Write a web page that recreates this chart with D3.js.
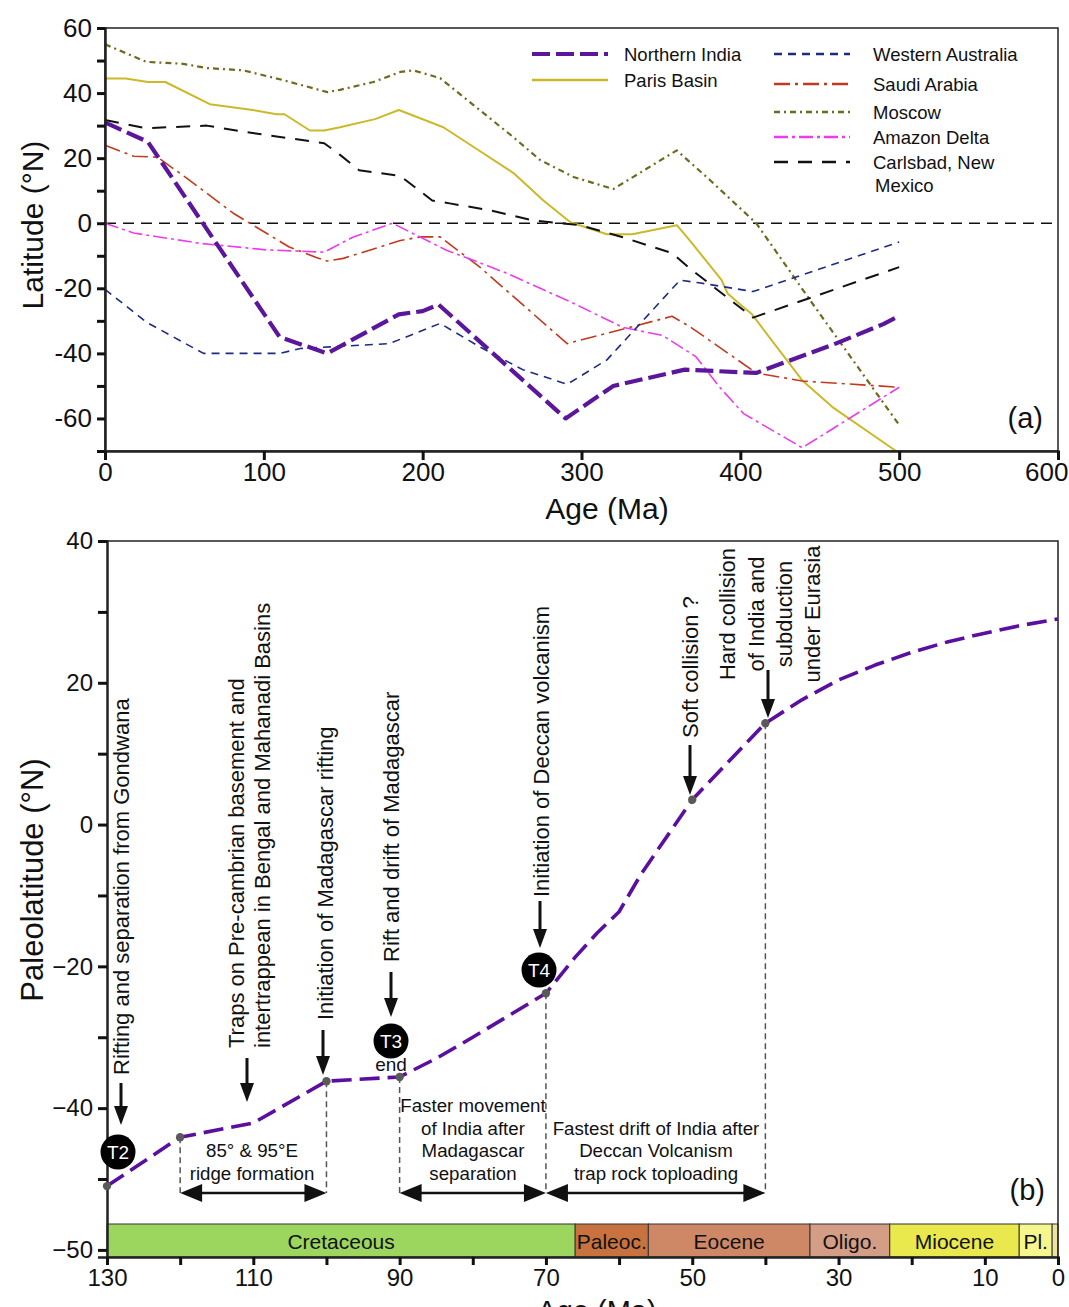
<!DOCTYPE html>
<html>
<head>
<meta charset="utf-8">
<script src="https://cdn.jsdelivr.net/npm/d3@7"></script>
<style>
  body { margin: 0; background: #fff; }
  svg { display: block; font-family: "Liberation Sans", Arial, sans-serif; }
</style>
</head>
<body>
<div id="my_dataviz"></div>
<script>
// ---------- data (a) : paleolatitude vs age for each region ----------
var ageIndia   = [0, 27, 110, 140, 185, 200, 210, 290, 320, 365, 410, 460, 490, 500]
var latIndia   = [31, 25, -35, -40, -28, -27, -25, -60, -50, -45, -46, -37, -31, -28.5]

var ageParis   = [0, 13, 27, 38, 66, 93, 108, 113, 129, 138, 148, 170, 185, 213, 235, 257, 276, 293, 316, 332, 360, 368, 388, 392, 400, 407, 439, 458, 498]
var latParis   = [44.5, 44.5, 43.4, 43.4, 36.6, 34.8, 33.5, 33.5, 28.5, 28.5, 29.5, 32, 34.8, 29.5, 22.5, 15.5, 7, 0.3, -3.4, -3.4, -0.6, -5.2, -17.3, -21.6, -25, -27.8, -48.3, -56.5, -70]

var ageWAus    = [0, 26, 62, 110, 123, 179, 211, 236, 263, 291, 316, 362, 374, 408, 500]
var latWAus    = [-20.3, -30.4, -40, -40, -38.5, -37, -30.8, -38, -45, -49.5, -42, -17.5, -18.3, -21, -5.8]

var ageSaudi   = [0, 18, 33, 51, 81, 116, 133, 140, 150, 186, 199, 211, 236, 291, 357, 368, 410, 439, 500]
var latSaudi   = [24, 20.6, 20.3, 14, 3, -7.3, -10.5, -11.6, -10.8, -5.3, -4.2, -4.2, -13.5, -37, -28.6, -31.7, -46, -48.5, -50.4]

var ageMoscow  = [0, 26, 49, 64, 87, 112, 140, 148, 169, 186, 194, 211, 232, 257, 274, 295, 320, 360, 381, 410, 444, 500]
var latMoscow  = [55, 49.6, 49, 47.7, 47, 44, 40.3, 41, 43.4, 46.5, 47, 44.6, 36.3, 26.5, 19.4, 14.2, 10.5, 22.4, 13.2, 0, -23.7, -62]

var ageAmazon  = [0, 18, 60, 102, 138, 156, 181, 215, 232, 253, 295, 326, 351, 372, 387, 402, 439, 500]
var latAmazon  = [0, -3, -6.2, -8.2, -8.9, -4.3, 0, -8.3, -11.4, -15.4, -24.6, -32, -34.5, -41, -50.4, -58.5, -69, -50.4]

var ageCarls   = [0, 26, 64, 93, 138, 148, 160, 186, 206, 217, 242, 269, 299, 326, 357, 368, 408, 500]
var latCarls   = [31.7, 29.2, 30, 27.7, 24.6, 21, 16.3, 14.5, 7, 6.1, 4, 0.9, -0.6, -4.3, -9.2, -13.8, -29, -13.5]

var seriesNames = ["Northern India", "Paris Basin", "Western Australia", "Saudi Arabia", "Moscow", "Amazon Delta", "Carlsbad, New Mexico"]

var xTicksA = [0, 100, 200, 300, 400, 500, 600]

// ---------- data (b) : Northern India paleolatitude, last 130 Ma ----------
var ageB = [130, 120, 110, 100, 90, 85, 80, 70, 66, 63, 60, 57, 53, 50, 40, 35, 30, 25, 20, 15, 10, 5, 0]
var latB = [-51, -44.1, -42.1, -36.2, -35.6, -33, -30, -23.8, -18.7, -15.3, -12.3, -7, -1, 3.5, 14.3, 17.6, 20.4, 22.5, 24.3, 25.8, 27, 28.1, 29]
var markedAges = [130, 120, 100, 90, 70, 50, 40]

var epochNames = ["Cretaceous", "Paleoc.", "Eocene", "Oligo.", "Miocene", "Pl.", ""]
var epochStart = [130, 66, 56, 33.9, 23, 5.3, 0.8]
var epochEnd   = [66, 56, 33.9, 23, 5.3, 0.8, 0]
var epochColor = ["#9cd65f", "#c8733f", "#ce8866", "#d49d86", "#e9e84d", "#f6f68e", "#eee29f"]

var xTickLabelsB = [130, 110, 90, 70, 50, 30, 10, 0]
// the original figure labels its lowest tick "−50"
var yTickLabelsB = {"40": "40", "20": "20", "0": "0", "-20": "\u221220", "-40": "\u221240", "-60": "\u221250"}

// ---------- svg ----------
var W = 1069, H = 1307
var svg = d3.select("#my_dataviz").append("svg")
    .attr("width", W).attr("height", H)

var styles = {
  "Northern India":       {color: "#5b169b", width: 4.2, dash: "18,6"},
  "Paris Basin":          {color: "#cbb929", width: 2,   dash: null},
  "Western Australia":    {color: "#1f2b82", width: 1.6, dash: "8,6"},
  "Saudi Arabia":         {color: "#c23a1e", width: 1.6, dash: "16,5,3,5"},
  "Moscow":               {color: "#6e6a1e", width: 2.2, dash: "6,4,2,4"},
  "Amazon Delta":         {color: "#eb3deb", width: 1.6, dash: "14,4,3,4"},
  "Carlsbad, New Mexico": {color: "#111111", width: 2,   dash: "14,10"}
}
var seriesData = [
  [ageIndia, latIndia], [ageParis, latParis], [ageWAus, latWAus], [ageSaudi, latSaudi],
  [ageMoscow, latMoscow], [ageAmazon, latAmazon], [ageCarls, latCarls]
]

// ===================== panel (a) =====================
var xA = d3.scaleLinear().domain([0, 600]).range([105, 1058])
var yA = d3.scaleLinear().domain([-70, 60]).range([451, 28])

var gA = svg.append("g")

// zero line
gA.append("line")
    .attr("x1", xA(0)).attr("x2", xA(600))
    .attr("y1", yA(0)).attr("y2", yA(0))
    .attr("stroke", "#111").attr("stroke-width", 1.3)
    .attr("stroke-dasharray", "11,7")

var lineA = d3.line().x(function(d) { return xA(d[0]) }).y(function(d) { return yA(d[1]) })

// draw in back-to-front order, India on top
var drawOrder = [1, 4, 6, 3, 5, 2, 0]
drawOrder.forEach(function(i) {
  var s = styles[seriesNames[i]]
  var pts = d3.zip(seriesData[i][0], seriesData[i][1])
  gA.append("path")
      .datum(pts)
      .attr("d", lineA)
      .attr("fill", "none")
      .attr("stroke", s.color)
      .attr("stroke-width", s.width)
      .attr("stroke-dasharray", s.dash)
      .attr("stroke-linejoin", "round")
})

// frame
gA.append("rect")
    .attr("x", xA(0)).attr("y", yA(60))
    .attr("width", xA(600) - xA(0)).attr("height", yA(-70) - yA(60))
    .attr("fill", "none").attr("stroke", "#222").attr("stroke-width", 1.5)

var yAxisA = gA.append("g")
    .attr("transform", "translate(" + xA(0) + ",0)")
    .call(d3.axisLeft(yA).tickValues(d3.range(-70, 61, 10)).tickSize(8).tickPadding(5)
      .tickFormat(function(d) { return d % 20 === 0 ? String(d) : "" }))
var xAxisA = gA.append("g")
    .attr("transform", "translate(0," + yA(-70) + ")")
    .call(d3.axisBottom(xA).tickValues(xTicksA).tickSize(9).tickPadding(3)
      .tickFormat(function(d) { return String(d) }))
;[yAxisA, xAxisA].forEach(function(ax) {
  ax.select(".domain").attr("stroke", "#222").attr("stroke-width", 2.5)
  ax.selectAll(".tick line").attr("stroke", "#111").attr("stroke-width", 3)
  ax.selectAll(".tick text").attr("font-size", 26).attr("fill", "#111")
      .attr("font-family", "Liberation Sans, Arial, sans-serif")
})
// last label sits against the page edge
xAxisA.selectAll(".tick text").filter(function(d) { return d === 600 })
    .attr("text-anchor", "end").attr("dx", 10)

gA.append("text")
    .attr("text-anchor", "middle")
    .attr("transform", "translate(43,225) rotate(-90)")
    .attr("font-size", 30).attr("fill", "#111")
    .text("Latitude (°N)")
gA.append("text")
    .attr("text-anchor", "middle")
    .attr("x", 607).attr("y", 519)
    .attr("font-size", 30).attr("fill", "#111")
    .text("Age (Ma)")
gA.append("text")
    .attr("x", 1043).attr("y", 428).attr("text-anchor", "end")
    .attr("font-size", 29).attr("fill", "#111")
    .text("(a)")

// legend
var legendSpec = [
  {name: "Northern India", x: 532, tx: 624, y: 55, lines: ["Northern India"]},
  {name: "Paris Basin", x: 532, tx: 624, y: 81, lines: ["Paris Basin"]},
  {name: "Western Australia", x: 774, tx: 873, y: 55, lines: ["Western Australia"]},
  {name: "Saudi Arabia", x: 774, tx: 873, y: 85, lines: ["Saudi Arabia"]},
  {name: "Moscow", x: 774, tx: 873, y: 113, lines: ["Moscow"]},
  {name: "Amazon Delta", x: 774, tx: 873, y: 138, lines: ["Amazon Delta"]},
  {name: "Carlsbad, New Mexico", x: 774, tx: 873, y: 163, lines: ["Carlsbad, New", "Mexico"]}
]
var leg = gA.append("g")
legendSpec.forEach(function(l) {
  var s = styles[l.name]
  leg.append("line")
      .attr("x1", l.x).attr("x2", l.x + 76)
      .attr("y1", l.y - 1).attr("y2", l.y - 1)
      .attr("stroke", s.color).attr("stroke-width", Math.max(s.width, 2.4))
      .attr("stroke-dasharray", s.dash)
  l.lines.forEach(function(t, j) {
    leg.append("text")
        .attr("x", l.tx + (j > 0 ? 2 : 0)).attr("y", l.y + 6 + j * 23)
        .attr("font-size", 18.5).attr("fill", "#111")
        .text(t)
  })
})

// ===================== panel (b) =====================
var xB = d3.scaleLinear().domain([130, 0]).range([107, 1058])
var yB = d3.scaleLinear().domain([40, -61]).range([541, 1257])
var barTop = 1224

var gB = svg.append("g")

// time scale bar
var epochs = d3.range(epochNames.length).map(function(i) {
  return {name: epochNames[i], a0: epochStart[i], a1: epochEnd[i], color: epochColor[i]}
})
gB.selectAll("rect.epoch")
  .data(epochs)
  .enter()
  .append("rect")
    .attr("class", "epoch")
    .attr("x", function(d) { return xB(d.a0) })
    .attr("width", function(d) { return xB(d.a1) - xB(d.a0) })
    .attr("y", barTop).attr("height", yB(-61) - barTop)
    .attr("fill", function(d) { return d.color })
    .attr("stroke", "#333").attr("stroke-width", 1)
gB.selectAll("text.epoch")
  .data(epochs)
  .enter()
  .append("text")
    .attr("class", "epoch")
    .attr("x", function(d) { return (xB(d.a0) + xB(d.a1)) / 2 })
    .attr("y", barTop + 25)
    .attr("text-anchor", "middle")
    .attr("font-size", 21).attr("fill", "#111")
    .text(function(d) { return d.name })

// frame top + right
gB.append("path")
    .attr("d", "M" + xB(130) + "," + yB(40) + "H" + xB(0) + "V" + yB(-61))
    .attr("fill", "none").attr("stroke", "#222").attr("stroke-width", 1.5)

var yAxisB = gB.append("g")
    .attr("transform", "translate(" + xB(130) + ",0)")
    .call(d3.axisLeft(yB).tickValues(d3.range(-60, 41, 10)).tickSize(9).tickPadding(5)
      .tickFormat(function(d) { return yTickLabelsB[String(d)] || "" }))
var xAxisB = gB.append("g")
    .attr("transform", "translate(0," + yB(-61) + ")")
    .call(d3.axisBottom(xB).tickValues(d3.range(0, 131, 10)).tickSize(8).tickPadding(4)
      .tickFormat(function(d) { return xTickLabelsB.indexOf(d) >= 0 ? String(d) : "" }))
;[yAxisB, xAxisB].forEach(function(ax) {
  ax.select(".domain").attr("stroke", "#222").attr("stroke-width", 2.5)
  ax.selectAll(".tick line").attr("stroke", "#111").attr("stroke-width", 3)
  ax.selectAll(".tick text").attr("font-size", 24).attr("fill", "#111")
      .attr("font-family", "Liberation Sans, Arial, sans-serif")
})

gB.append("text")
    .attr("text-anchor", "middle")
    .attr("transform", "translate(43,880) rotate(-90)")
    .attr("font-size", 31).attr("fill", "#111")
    .text("Paleolatitude (°N)")
gB.append("text")
    .attr("text-anchor", "middle")
    .attr("x", 597).attr("y", 1321)
    .attr("font-size", 29).attr("fill", "#111")
    .text("Age (Ma)")
gB.append("text")
    .attr("x", 1045).attr("y", 1200).attr("text-anchor", "end")
    .attr("font-size", 29).attr("fill", "#111")
    .text("(b)")

var ptsB = d3.zip(ageB, latB)
var lookup = {}
ptsB.forEach(function(p) { lookup[p[0]] = p[1] })

// dashed guides and double arrows
var arrowY = 1193
var guideAges = [120, 100, 90, 70, 40]
guideAges.forEach(function(a) {
  gB.append("line")
      .attr("x1", xB(a)).attr("x2", xB(a))
      .attr("y1", yB(lookup[a])).attr("y2", arrowY)
      .attr("stroke", "#555").attr("stroke-width", 1.5)
      .attr("stroke-dasharray", "6,4")
})

function head(g, x, y, dir, len, half, vertical) {
  var p
  if (vertical) p = [[x, y], [x - half, y - len], [x + half, y - len]]
  else p = [[x, y], [x - dir * len, y - half], [x - dir * len, y + half]]
  g.append("path").attr("d", "M" + p.join("L") + "Z").attr("fill", "#111")
}
var spans = [[120, 100], [90, 70], [70, 40]]
spans.forEach(function(s) {
  var x1 = xB(s[0]), x2 = xB(s[1])
  gB.append("line")
      .attr("x1", x1 + 8).attr("x2", x2 - 8)
      .attr("y1", arrowY).attr("y2", arrowY)
      .attr("stroke", "#111").attr("stroke-width", 2.5)
  head(gB, x1, arrowY, -1, 22, 9, false)
  head(gB, x2, arrowY, 1, 22, 9, false)
})

// span descriptions
var spanText = [
  {x: 252, y: [1157, 1180], lines: ["85° & 95°E", "ridge formation"]},
  {x: 473, y: [1112, 1135, 1157, 1180], lines: ["Faster movement", "of India after", "Madagascar", "separation"]},
  {x: 656, y: [1135, 1157, 1180], lines: ["Fastest drift of India after", "Deccan Volcanism", "trap rock toploading"]}
]
spanText.forEach(function(t) {
  t.lines.forEach(function(s, j) {
    gB.append("text")
        .attr("x", t.x).attr("y", t.y[j])
        .attr("text-anchor", "middle")
        .attr("font-size", 18.7).attr("fill", "#111")
        .text(s)
  })
})

// the curve
var lineB = d3.line().x(function(d) { return xB(d[0]) }).y(function(d) { return yB(d[1]) })
gB.append("path")
    .datum(ptsB)
    .attr("d", lineB)
    .attr("fill", "none")
    .attr("stroke", "#5b0f9e")
    .attr("stroke-width", 3.6)
    .attr("stroke-dasharray", "20,8")
    .attr("stroke-linejoin", "round")

gB.selectAll("circle.pt")
  .data(markedAges)
  .enter()
  .append("circle")
    .attr("class", "pt")
    .attr("cx", function(a) { return xB(a) })
    .attr("cy", function(a) { return yB(lookup[a]) })
    .attr("r", 4.2)
    .attr("fill", "#5a5a5a")

// vertical event labels with arrows
var events = [
  {lines: ["Rifting and separation from Gondwana"], xs: [121], y0: 1075, anchor: "start", ax: 121, ay: [1083, 1125]},
  {lines: ["Traps on Pre-cambrian basement and", "intertrappean in Bengal and Mahanadi Basins"], xs: [236, 262], y0: 1048, anchor: "start", ax: 247, ay: [1058, 1102]},
  {lines: ["Initiation of Madagascar rifting"], xs: [325], y0: 1020, anchor: "start", ax: 323, ay: [1030, 1075]},
  {lines: ["Rift and drift of Madagascar"], xs: [391], y0: 962, anchor: "start", ax: 391, ay: [972, 1017]},
  {lines: ["Initiation of Deccan volcanism"], xs: [541], y0: 897, anchor: "start", ax: 540, ay: [901, 948]},
  {lines: ["Soft collision ?"], xs: [690], y0: 738, anchor: "start", ax: 690, ay: [745, 795]},
  {lines: ["Hard collision", "of India and", "subduction", "under Eurasia"], xs: [727, 756, 784, 812], y0: 614, anchor: "middle", ax: 768, ay: [670, 718]}
]
events.forEach(function(e) {
  e.lines.forEach(function(s, j) {
    gB.append("text")
        .attr("transform", "translate(" + (e.xs[j] + 8) + "," + e.y0 + ") rotate(-90)")
        .attr("text-anchor", e.anchor)
        .attr("font-size", 22).attr("fill", "#111")
        .text(s)
  })
  gB.append("line")
      .attr("x1", e.ax).attr("x2", e.ax)
      .attr("y1", e.ay[0]).attr("y2", e.ay[1] - 10)
      .attr("stroke", "#111").attr("stroke-width", 3)
  head(gB, e.ax, e.ay[1], 1, 19, 7, true)
})

// T markers
var tMarks = [
  {label: "T2", x: 118, y: 1152},
  {label: "T3", x: 391, y: 1041},
  {label: "T4", x: 539, y: 970}
]
tMarks.forEach(function(t) {
  gB.append("circle").attr("cx", t.x).attr("cy", t.y).attr("r", 17.5).attr("fill", "#000")
  gB.append("text").attr("x", t.x).attr("y", t.y + 7)
      .attr("text-anchor", "middle").attr("font-size", 19).attr("fill", "#fff")
      .text(t.label)
})
gB.append("text").attr("x", 391).attr("y", 1071)
    .attr("text-anchor", "middle").attr("font-size", 19).attr("fill", "#111")
    .text("end")
</script>
</body>
</html>
